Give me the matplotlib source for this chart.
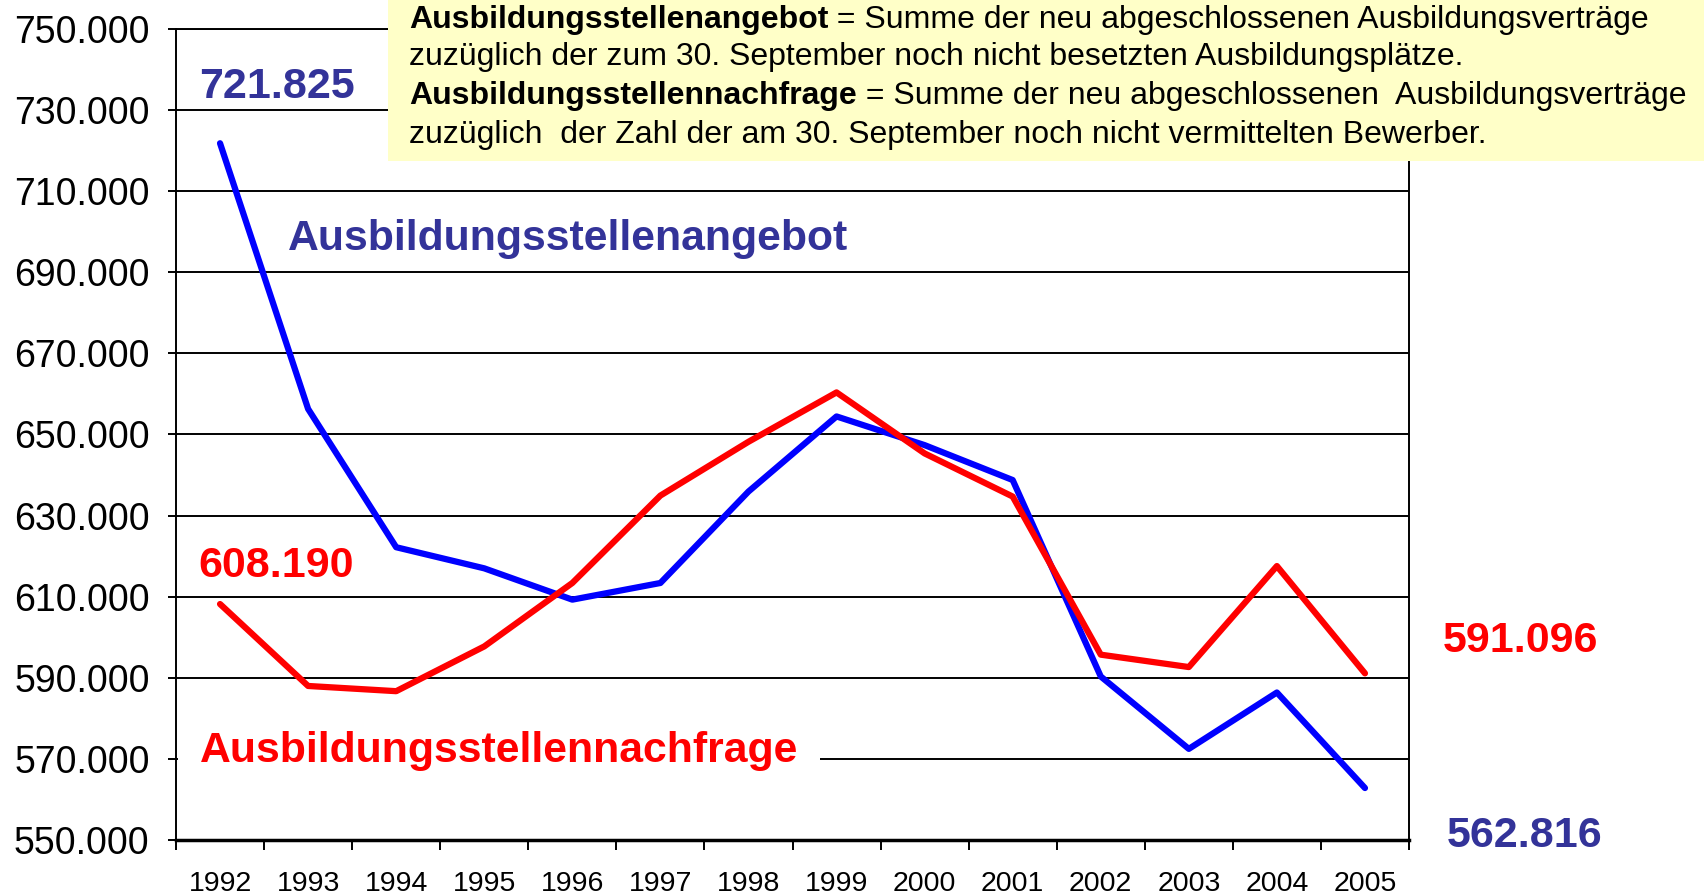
import numpy as np
import matplotlib
matplotlib.use('Agg')
import matplotlib.pyplot as plt
from matplotlib.patches import Rectangle

plt.rcParams['font.family'] = ['Liberation Sans', 'DejaVu Sans']

# Daten: Ausbildungsstellenangebot und -nachfrage 1992-2005
years = ['1992', '1993', '1994', '1995', '1996', '1997', '1998',
         '1999', '2000', '2001', '2002', '2003', '2004', '2005']
angebot = [721825, 656309, 622200, 616994, 609274, 613382, 635933,
           654454, 647383, 638771, 590328, 572474, 586374, 562816]
nachfrage = [608190, 587986, 586700, 597736, 613381, 634938, 648204,
             660380, 645335, 634698, 595706, 592649, 617556, 591096]
yticks = np.arange(550000, 750001, 20000)

BLUE = '#0000FF'
RED = '#FF0000'
NAVY = '#333399'

fig = plt.figure(figsize=(17.04, 8.96), dpi=100)
ax = fig.add_axes([176 / 1704, 56 / 896, (1409 - 176) / 1704, (840 - 29) / 896])

x = np.arange(len(years))
ax.plot(x, angebot, color=BLUE, lw=4.5, solid_capstyle='round', zorder=3)
ax.plot(x, nachfrage, color=RED, lw=4.5, solid_capstyle='round', zorder=3)

ax.set_xlim(-0.5, len(years) - 0.5)
ax.set_ylim(550000, 750000)

# y axis
ax.set_yticks(yticks)
ax.set_yticklabels([f'{v / 1000:.3f}' for v in yticks], fontsize=27)
ax.yaxis.grid(True, color='black', lw=1.4)
ax.tick_params(axis='y', direction='out', length=6, width=1.4, pad=13)

# x axis: ticks between categories, labels at the centres
ax.set_xticks(np.arange(-0.5, len(years), 1.0))
ax.set_xticklabels([])
ax.set_xticks(x, minor=True)
ax.set_xticklabels(years, minor=True, fontsize=20.5)
ax.tick_params(axis='x', which='major', direction='out', length=7, width=1.4)
ax.tick_params(axis='x', which='minor', length=0, pad=22)

for s in ['left', 'right', 'top']:
    ax.spines[s].set_linewidth(1.4)
ax.spines['bottom'].set_linewidth(2.5)
ax.set_axisbelow(True)


def ftext(px, py, s, **kw):
    return fig.text(px / 1704, 1 - py / 896, s, **kw)


# white background behind the demand label (breaks the 570.000 gridline)
fig.patches.append(Rectangle((178 / 1704, 1 - 770 / 896), (820 - 178) / 1704, 38 / 896,
                             transform=fig.transFigure, facecolor='white',
                             edgecolor='none', zorder=4))

ftext(199, 87, '721.825', color=NAVY, fontsize=31, fontweight='bold', va='center')
ftext(288, 239, 'Ausbildungsstellenangebot', color=NAVY, fontsize=30.8,
      fontweight='bold', va='center')
ftext(198, 566, '608.190', color=RED, fontsize=31, fontweight='bold', va='center')
ftext(200, 751, 'Ausbildungsstellennachfrage', color=RED, fontsize=30.8,
      fontweight='bold', va='center', zorder=6)
ftext(1443, 641, '591.096', color=RED, fontsize=31, fontweight='bold', va='center')
ftext(1447, 836, '562.816', color=NAVY, fontsize=31, fontweight='bold', va='center')

# yellow definition box
fig.patches.append(Rectangle((388 / 1704, 1 - 161 / 896), 1, 161 / 896,
                             transform=fig.transFigure, facecolor='#FFFFC8',
                             edgecolor='none', zorder=5))

box_lines = [
    ('Ausbildungsstellenangebot', ' = Summe der neu abgeschlossenen Ausbildungsverträge', 20),
    (None, 'zuzüglich der zum 30. September noch nicht besetzten Ausbildungsplätze.', 57),
    ('Ausbildungsstellennachfrage', ' = Summe der neu abgeschlossenen  Ausbildungsverträge', 96),
    (None, 'zuzüglich  der Zahl der am 30. September noch nicht vermittelten Bewerber.', 135),
]
fs_box = 23
for bold, rest, py in box_lines:
    if bold:
        t = ftext(409, py, bold, fontsize=fs_box, fontweight='bold', va='center', zorder=6)
        ann = plt.Annotation(rest, xy=(1, 0.5), xycoords=t, va='center',
                             fontsize=fs_box, zorder=6)
        ann.set_figure(fig)
        fig.texts.append(ann)
    else:
        ftext(409, py, rest, fontsize=fs_box, va='center', zorder=6)

fig.savefig('out.png', dpi=100)
